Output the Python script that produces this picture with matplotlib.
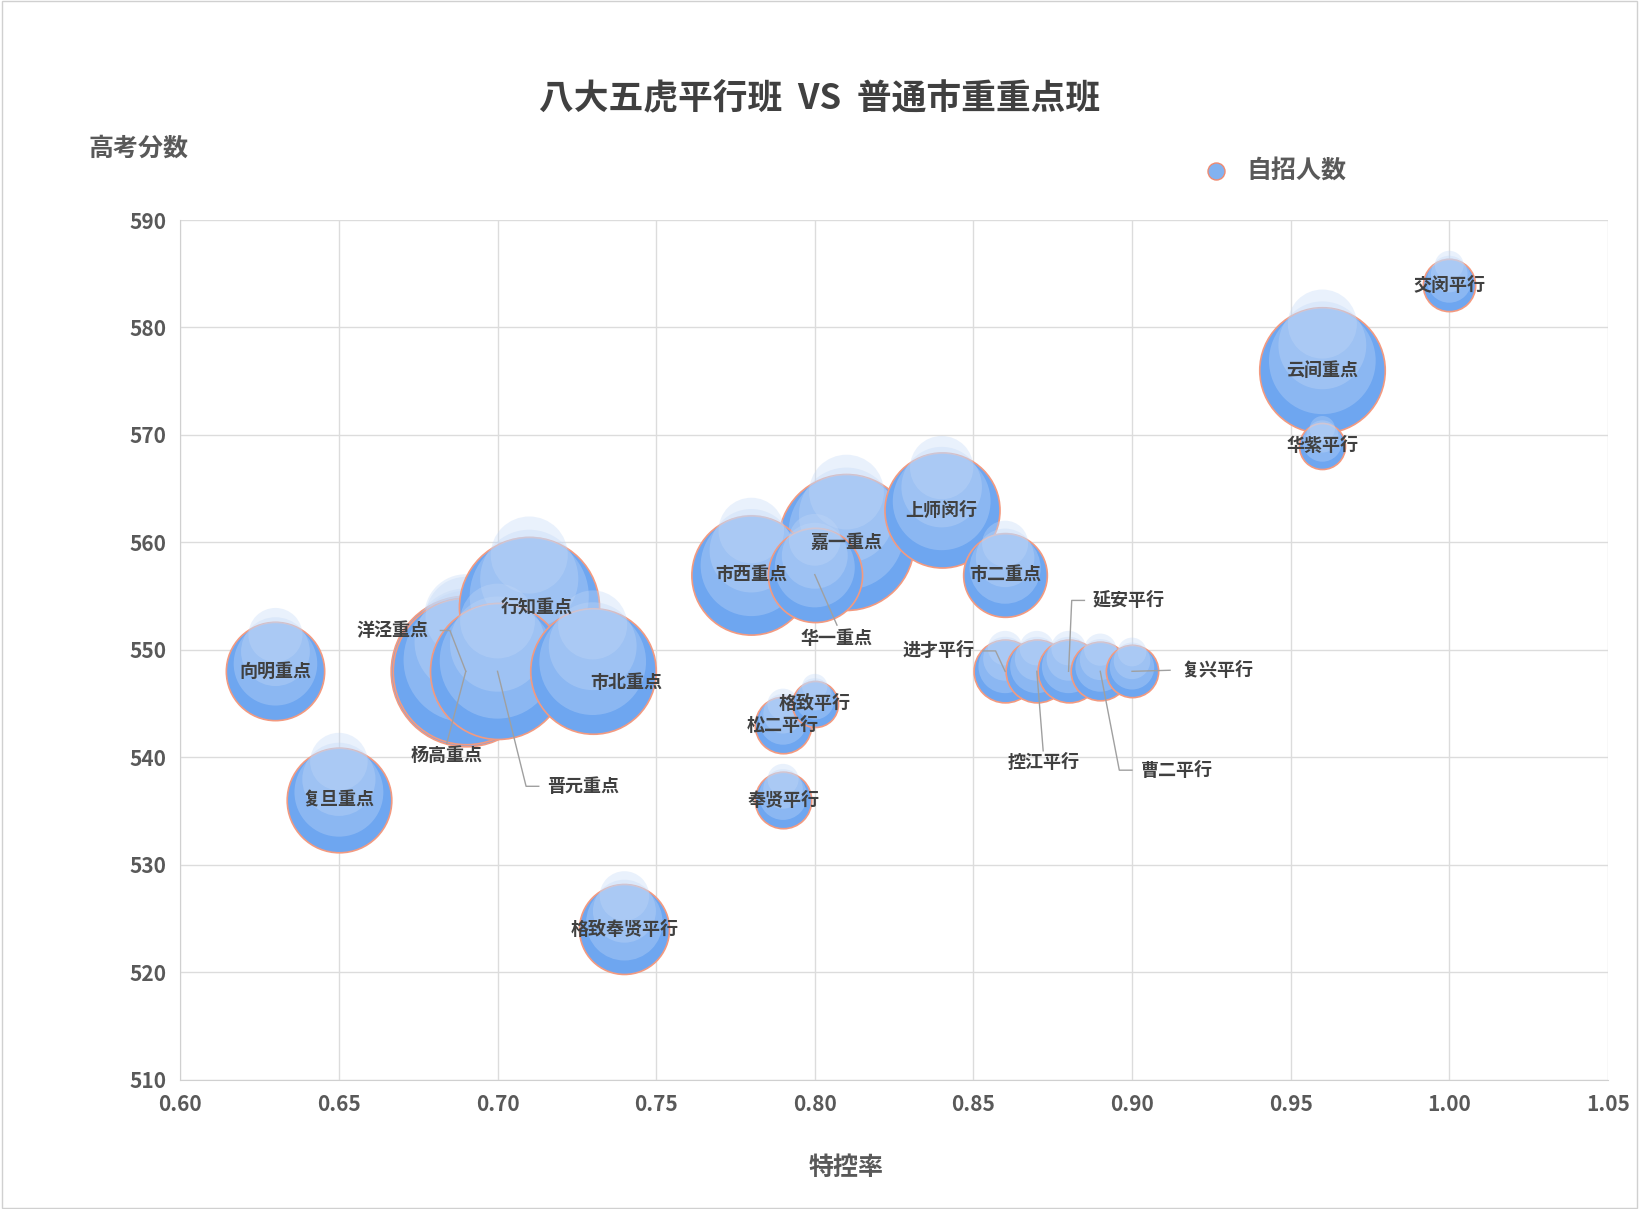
import matplotlib
matplotlib.use("Agg")
import matplotlib.pyplot as plt
from matplotlib import font_manager as fm

cjk = [f for f in fm.fontManager.ttflist if 'CJK' in f.name]
fam = None
for pref in ['Noto Sans CJK SC', 'Noto Sans CJK JP', 'Noto Sans CJK TC', 'Noto Sans CJK KR']:
    if any(f.name == pref for f in cjk):
        fam = pref; break
if fam is None and cjk:
    fam = cjk[0].name
if fam is None:
    import glob
    files = glob.glob('/usr/share/fonts/**/*CJK*', recursive=True)
    for p in files:
        fm.fontManager.addfont(p)
    cjk = [f for f in fm.fontManager.ttflist if 'CJK' in f.name]
    fam = cjk[0].name if cjk else 'DejaVu Sans'
plt.rcParams['font.family'] = [fam, 'DejaVu Sans']

names = ['交闵平行','云间重点','华紫平行','上师闵行','嘉一重点','华一重点','市西重点','市二重点',
         '行知重点','市北重点','晋元重点','杨高重点','洋泾重点','向明重点','复旦重点','格致奉贤平行',
         '格致平行','松二平行','奉贤平行','进才平行','控江平行','延安平行','曹二平行','复兴平行']
rate = [1.00,0.96,0.96,0.84,0.81,0.80,0.78,0.86,0.71,0.73,0.70,0.69,0.69,0.63,0.65,0.74,
        0.80,0.79,0.79,0.86,0.87,0.88,0.89,0.90]
score = [584,576,569,563,560,557,557,557,554,548,548,548,548,548,536,524,545,543,536,548,548,548,548,548]
count = [25,60,22,55,65,45,57,40,67,60,65,72,70,47,50,43,22,27,27,30,30,30,28,25]

W, H = 1639, 1209
fig = plt.figure(figsize=(W/100, H/100), dpi=100)
ax = fig.add_axes([0.110, 0.107, 0.871, 0.711])
sc = 1639/1567*0.72
sizes = [(2*c*sc)**2 for c in count]
order = sorted(range(len(names)), key=lambda i: -count[i])
for i in order:
    ax.scatter(rate[i], score[i], s=sizes[i], c='#6ea6f0', edgecolors='#f39a80', linewidths=1.2, zorder=3)
    for k, (f, a) in enumerate([(0.85, 0.35), (0.7, 0.35), (0.55, 0.35)]):
        off = count[i]*(1-f)*0.1 * (1 + 0.3*k)
        ax.scatter(rate[i], score[i]+off, s=sizes[i]*f*f, c='#c2d8f7', edgecolors='none', zorder=3, alpha=a)
ax.scatter([], [], s=150, c='#82b2f0', edgecolors='#f08a70', label='自招人数')

tk = dict(fontsize=13, fontweight='bold', color='#404040', ha='center', va='center', zorder=5)
lk = dict(color='#a0a0a0', lw=1, zorder=4)
centered = {'交闵平行':(1.0,583.9),'云间重点':(0.96,576),'华紫平行':(0.96,569),'上师闵行':(0.84,563),
            '嘉一重点':(0.81,560),'市西重点':(0.78,557),'市二重点':(0.86,557),'行知重点':(0.7125,554),
            '市北重点':(0.7405,547),'向明重点':(0.63,548),'复旦重点':(0.65,536),'格致奉贤平行':(0.74,524),
            '格致平行':(0.80,545),'松二平行':(0.79,543),'奉贤平行':(0.79,536)}
for n,(x,y) in centered.items():
    ax.text(x, y, n, **tk)
ax.text(0.667, 551.8, '洋泾重点', **tk); ax.plot([0.682,0.685,0.69],[551.8,551.8,548],**lk)
ax.text(0.684, 540.2, '杨高重点', **tk); ax.plot([0.684,0.69],[541.3,548],**lk)
ax.text(0.727, 537.3, '晋元重点', **tk); ax.plot([0.713,0.709,0.7],[537.3,537.3,548],**lk)
ax.text(0.807, 551.1, '华一重点', **tk); ax.plot([0.807,0.8],[552.3,557],**lk)
ax.text(0.839, 549.9, '进才平行', **tk); ax.plot([0.853,0.857,0.86],[549.9,549.9,548],**lk)
ax.text(0.872, 539.5, '控江平行', **tk); ax.plot([0.872,0.87],[540.6,548],**lk)
ax.text(0.899, 554.6, '延安平行', **tk); ax.plot([0.885,0.881,0.88],[554.6,554.6,548],**lk)
ax.text(0.914, 538.8, '曹二平行', **tk); ax.plot([0.9,0.896,0.89],[538.8,538.8,548],**lk)
ax.text(0.927, 548.1, '复兴平行', **tk); ax.plot([0.912,0.9],[548.1,548],**lk)

ax.set_xlim(0.60, 1.05); ax.set_ylim(510, 590)
ax.set_xticks([0.60,0.65,0.70,0.75,0.80,0.85,0.90,0.95,1.00,1.05])
ax.set_xticklabels([f'{v:.2f}' for v in ax.get_xticks()])
ax.set_yticks(range(510,591,10))
ax.tick_params(labelsize=15, colors='#595959', length=0, pad=10)
for t in ax.get_xticklabels()+ax.get_yticklabels(): t.set_fontweight('bold')
ax.grid(True, color='#dcdcdc', lw=1, zorder=0); ax.set_axisbelow(True)
for s in ['top','right']: ax.spines[s].set_visible(False)
for s in ['left','bottom']: ax.spines[s].set_color('#d0d0d0')
fig.text(0.5, 0.918, '八大五虎平行班  VS  普通市重重点班', fontsize=25, fontweight='bold', color='#404040', ha='center', va='center')
fig.text(0.054, 0.877, '高考分数', fontsize=18, fontweight='bold', color='#595959', va='center')
fig.text(0.516, 0.034, '特控率', fontsize=18, fontweight='bold', color='#595959', ha='center', va='center')
leg = fig.legend(loc='center left', bbox_to_anchor=(0.713, 0.859), frameon=False,
                 handletextpad=0.2, prop={'family':[fam],'weight':'bold','size':18})
for t in leg.get_texts(): t.set_color('#595959')
fig.patches.append(plt.Rectangle((0.001,0.001),0.998,0.998, transform=fig.transFigure, fill=False, ec='#d0d0d0', lw=1))
fig.savefig('out.png', dpi=100)
